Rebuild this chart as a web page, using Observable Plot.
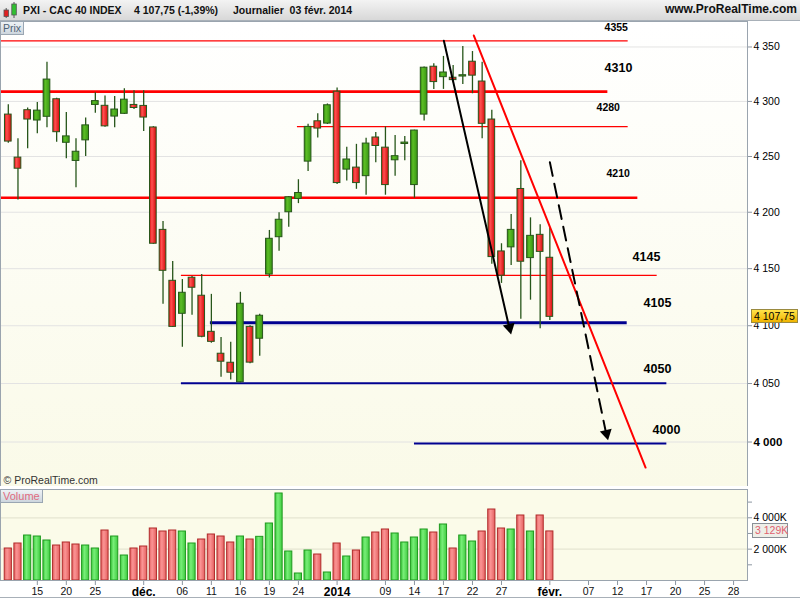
<!DOCTYPE html>
<html lang="fr"><head><meta charset="utf-8">
<script src="https://cdn.jsdelivr.net/npm/d3@7"></script>
<script src="https://cdn.jsdelivr.net/npm/@observablehq/plot@0.6"></script>
<style>
html,body{margin:0;padding:0;background:#fff}
body{width:800px;height:600px;position:relative;overflow:hidden;font-family:"Liberation Sans",Arial,sans-serif}
#hdr{position:absolute;left:0;top:0;width:800px;height:21px;background:linear-gradient(#f3f3f3,#d8d8d8);border-bottom:1px solid #a8b0b8;box-sizing:border-box}
.ht{position:absolute;top:3px;font-weight:bold;color:#111;white-space:nowrap;line-height:14px}
#price{position:absolute;left:0;top:21px}
#vol{position:absolute;left:0;top:489px}
.tag{position:absolute;box-sizing:border-box;border:1px solid #9aa6b2;background:linear-gradient(#eef2f5,#cdd6de);font-size:10.5px;line-height:12px;padding:0 2px;white-space:nowrap}
.box{position:absolute;box-sizing:border-box;font-size:10.5px;line-height:12px;padding:0 2px;white-space:nowrap;z-index:5}
#bottomline{position:absolute;left:0;top:597px;width:800px;height:1px;background:#a8b0b8}
#sep{position:absolute;left:0;top:486px;width:748px;height:3px;background:#fff}
</style>
</head><body>
<svg width="0" height="0" style="position:absolute">
  <defs>
    <linearGradient id="gDn" x1="0" x2="1" y1="0" y2="0">
      <stop offset="0" stop-color="#dc1010"/><stop offset="0.35" stop-color="#ff5050"/><stop offset="1" stop-color="#d40c0c"/>
    </linearGradient>
    <linearGradient id="gUp" x1="0" x2="1" y1="0" y2="0">
      <stop offset="0" stop-color="#2f8a0c"/><stop offset="0.35" stop-color="#5cbd26"/><stop offset="1" stop-color="#379612"/>
    </linearGradient>
    <linearGradient id="vDn" x1="0" x2="1" y1="0" y2="0">
      <stop offset="0" stop-color="#e46464"/><stop offset="0.4" stop-color="#fb9494"/><stop offset="1" stop-color="#e46060"/>
    </linearGradient>
    <linearGradient id="vUp" x1="0" x2="1" y1="0" y2="0">
      <stop offset="0" stop-color="#3cc83c"/><stop offset="0.4" stop-color="#78ee78"/><stop offset="1" stop-color="#40cc40"/>
    </linearGradient>
    <linearGradient id="bgPrice" x1="0" x2="0" y1="0" y2="1">
      <stop offset="0" stop-color="#ffffff"/><stop offset="1" stop-color="#fafae8"/>
    </linearGradient>
  </defs>
</svg>

<div id="hdr">
  <svg width="20" height="20" style="position:absolute;left:1px;top:0">
    <line x1="5.2" y1="8" x2="5.2" y2="18" stroke="#555" stroke-width="1"/>
    <rect x="3" y="10" width="4.5" height="6.5" fill="#e02020" stroke="#555" stroke-width="0.8"/>
    <line x1="13" y1="2" x2="13" y2="18" stroke="#555" stroke-width="1"/>
    <rect x="10.8" y="4" width="4.5" height="11" fill="#30c030" stroke="#555" stroke-width="0.8"/>
  </svg>
  <span class="ht" style="left:23px;font-size:10.5px">PXI - CAC 40 INDEX</span>
  <span class="ht" style="left:134px;font-size:10.5px">4 107,75 (-1,39%)</span>
  <span class="ht" style="left:233px;font-size:10.5px">Journalier&nbsp; 03 févr. 2014</span>
  <span class="ht" style="right:3px;font-size:12px;top:2px">www.ProRealTime.com</span>
</div>

<div id="price"></div>
<div id="sep"></div>
<div id="vol"></div>
<div id="bottomline"></div>

<script>
// ---- data ----
const days = ["12/11","13/11","14/11","15/11","18/11","19/11","20/11","21/11","22/11","25/11","26/11","27/11","28/11","29/11",
  "02/12","03/12","04/12","05/12","06/12","09/12","10/12","11/12","12/12","13/12","16/12","17/12","18/12","19/12","20/12","23/12","24/12","27/12","30/12","31/12",
  "02/01","03/01","06/01","07/01","08/01","09/01","10/01","13/01","14/01","15/01","16/01","17/01","20/01","21/01","22/01","23/01","24/01","27/01","28/01","29/01","30/01","31/01",
  "03/02"];
const opens  = [4288,4249,4292,4282.6,4286,4302,4262.4,4246,4264.6,4296.8,4296,4286.2,4288.7,4296.8,
  4295.9,4276.3,4184.3,4139.3,4110.4,4142,4126.2,4094.7,4075.7,4067.9,4051.1,4099,4088.7,4144.8,4177.8,4200,4211.9,4245.4,4281.9,4279.8,
  4308.9,4238.2,4240,4232.3,4267.2,4258,4246.6,4261.3,4224.3,4288,4331.8,4322.2,4321.7,4322.8,4336.4,4318.2,4283.5,4165.2,4168.8,4220.8,4159.3,4179.9,
  4159.6];
const highs  = [4297,4266,4294,4299,4336,4303,4290,4266,4285,4308,4305,4304.4,4311.6,4309.8,
  4309.8,4277,4191.7,4156.4,4140.4,4143,4144.9,4127.4,4089.8,4085.7,4129.2,4100,4110,4183.8,4199.5,4214,4229.1,4279.2,4288.8,4297.7,
  4312.3,4258.3,4261,4266.4,4271.7,4276.8,4269,4268.2,4273.8,4331.5,4334.6,4341.3,4333,4350.5,4345.8,4336,4291.9,4172,4198,4246.1,4195,4188.8,
  4186.1];
const lows   = [4262,4211,4257,4270.5,4276,4263,4248,4222,4250,4289.3,4276.5,4276,4288,4292.7,
  4272.6,4171.5,4118.8,4098.5,4081.3,4109.2,4089.5,4084.8,4055.4,4053,4050.5,4067,4073.6,4141.8,4165.4,4186.6,4207.7,4236.4,4266.8,4279,
  4224.8,4227.9,4220.5,4215.2,4244.4,4215.2,4232.3,4246.2,4212.5,4282.2,4311,4311,4317,4315.5,4307,4266,4153.8,4137,4152.8,4105.6,4122.3,4097.3,
  4104.6];
const closes = [4263.5,4239,4283.5,4291.6,4320,4272,4268.2,4254.3,4278.2,4300.3,4277.3,4292.6,4301.6,4294,
  4285.3,4172,4148.1,4099,4128.8,4133.2,4090.4,4086,4068.8,4059.3,4119.2,4068,4108.7,4176.4,4193.3,4213.4,4217.2,4276.8,4275.3,4296.5,
  4226.1,4247.3,4226.1,4261.7,4259.5,4224.3,4250.3,4262.6,4273.5,4330.9,4317.7,4326.5,4319.5,4324,4323.6,4279.6,4160.2,4143.8,4184.3,4156.1,4179,4164.8,
  4107.75];
// volume in thousands, and colour (u = up, d = down)
const volumes = [2041,2360,2870,2806,2551,2232,2424,2296,2232,2041,3189,2806,1594,2041,
  2168,3317,3125,3189,3125,2360,2615,2934,2806,2424,2806,2615,2785,3635,5549,1850,446,1913,1658,510,
  2360,1531,1913,2742,3061,3253,2998,2424,2742,3253,3061,3572,2041,2870,2487,3125,4528,3317,3253,4146,3125,4146,
  3129];
const volDir = ["d","d","u","u","u","d","d","d","u","u","d","u","u","d",
  "d","d","d","d","u","u","d","d","d","d","u","d","u","u","u","u","u","u","d","u",
  "d","u","d","u","d","d","u","u","u","u","d","u","d","u","u","d","d","d","u","d","u","d",
  "d"];

// x-axis ticks (trading-day positions) and labels
const tickIdx    = [3,6,9,14,18,21,24,27,30,34,39,42,45,48,51,56,60,63,66,69,72,75];
const tickLabels = ["15","20","25","déc.","06","11","16","19","24","2014","09","14","17","22","27","févr.","07","12","17","20","25","28"];
const boldLabels = ["déc.","2014","févr."];

// axis ticks
const priceTicks = [4000,4050,4100,4150,4200,4250,4300,4350];
const volTicks = [1000,2000,3000,4000,5000];

// horizontal levels drawn on the chart
const levelValue = [4355.7,4309,4277,4213,4144,4102.5,4050.3,3998.7];
const levelFrom  = [-0.8,-0.8,29.9,-0.8,17.9,20.9,17.9,42];
const levelTo    = [64.1,62,64.1,65.1,67.1,64,68.1,68.1];
const levelKind  = ["thinRed","thickRed","thinRed","thickRed","thinRed","navyThick","navy","navy"];
// level labels
const levelText   = ["4355","4310","4280","4210","4145","4105","4050","4000"];
const levelTextX  = [61.66,61.66,60.83,61.86,64.55,65.69,65.69,66.62];
const levelTextY  = [4368,4330.6,4294.5,4234.7,4160.7,4119.8,4062.5,4009.8];
const levelTextSz = [10.5,12.5,10.5,10.5,12.5,12.5,12.5,12.5];

// trend lines (trading-day index, price)
const blackLine  = [{x:45.04,y:4355.7},{x:51.73,y:4101.1}];
const blackHead  = [{x:51.83,y:4098.4}];
const redLine    = [{x:48.14,y:4360.6},{x:65.9,y:3978.4}];
const dashLine   = [{x:56.0,y:4244.9},{x:61.76,y:4009.8}];
const dashHead   = [{x:61.86,y:4007.3}];

// ---- build tables ----
const candles = days.map((d,i)=>({i, day:d, open:opens[i], high:highs[i], low:lows[i], close:closes[i]}));
const vols = days.map((d,i)=>({i, v:volumes[i], up: volDir[i]==="u"}));
const levels = levelValue.map((v,k)=>({v, x1:levelFrom[k], x2:levelTo[k], kind:levelKind[k]}));
const ltext = levelText.map((t,k)=>({t, x:levelTextX[k], y:levelTextY[k], s:levelTextSz[k]}));

const xDomain = [-0.807, 76.44];
const fmtN = d => d3.format(",")(d).replace(/,/g, " ");
const font = "Liberation Sans, Arial, sans-serif";
const wick = "#27561a";

const priceChart = Plot.plot({
  width: 800, height: 465,
  marginLeft: 0, marginRight: 53, marginTop: 0, marginBottom: 0,
  style: {background: "transparent", fontFamily: font, fontSize: "10.5px", overflow: "visible"},
  x: {domain: xDomain, axis: null},
  y: {type: "log", domain: [3962.4, 4373.6]},
  marks: [
    Plot.frame({fill: "url(#bgPrice)", stroke: "none"}),
    Plot.ruleY(priceTicks, {stroke: "#e3e3e3", strokeWidth: 1}),
    Plot.axisY(priceTicks.filter(d => d !== 4000), {anchor: "right", tickSize: 4, tickPadding: 2, tickFormat: fmtN, stroke: "#8c96a0", fill: "#000", fontSize: 10.5, label: null}),
    Plot.axisY([4000], {anchor: "right", tickSize: 4, tickPadding: 2, tickFormat: fmtN, stroke: "#8c96a0", fill: "#000", fontSize: 11.5, fontWeight: "bold", label: null}),
    Plot.ruleY(levels.filter(d => d.kind === "thinRed"), {y: "v", x1: "x1", x2: "x2", stroke: "#ff0000", strokeWidth: 1.2}),
    Plot.ruleY(levels.filter(d => d.kind === "thickRed"), {y: "v", x1: "x1", x2: "x2", stroke: "#ff0000", strokeWidth: 2.6}),
    Plot.ruleY(levels.filter(d => d.kind === "navyThick"), {y: "v", x1: "x1", x2: "x2", stroke: "#000090", strokeWidth: 3}),
    Plot.ruleY(levels.filter(d => d.kind === "navy"), {y: "v", x1: "x1", x2: "x2", stroke: "#000090", strokeWidth: 2}),
    Plot.ruleX(candles, {x: "i", y1: "low", y2: "high", stroke: wick, strokeWidth: 1.3}),
    Plot.rect(candles.filter(d => d.close >= d.open), {x1: d => d.i - 0.345, x2: d => d.i + 0.345, y1: "open", y2: "close", fill: "url(#gUp)", stroke: wick, strokeWidth: 1}),
    Plot.rect(candles.filter(d => d.close < d.open), {x1: d => d.i - 0.345, x2: d => d.i + 0.345, y1: "open", y2: "close", fill: "url(#gDn)", stroke: wick, strokeWidth: 1}),
    Plot.line(blackLine, {x: "x", y: "y", stroke: "#000", strokeWidth: 2}),
    Plot.dot(blackHead, {x: "x", y: "y", symbol: "triangle", r: 4.5, rotate: 167, fill: "#000", stroke: "none"}),
    Plot.line(redLine, {x: "x", y: "y", stroke: "#ff0000", strokeWidth: 2}),
    Plot.line(dashLine, {x: "x", y: "y", stroke: "#000", strokeWidth: 2, strokeDasharray: "14,8"}),
    Plot.dot(dashHead, {x: "x", y: "y", symbol: "triangle", r: 4.5, rotate: 167, fill: "#000", stroke: "none"}),
    Plot.text(ltext, {x: "x", y: "y", text: "t", fontSize: "s", fontWeight: "bold", fill: "#000", textAnchor: "start"}),
    Plot.text(["© ProRealTime.com"], {frameAnchor: "bottom-left", dx: 3, dy: -3, fontSize: 10.5, fill: "#333", textAnchor: "start"}),
    Plot.frame({stroke: "#9aa4ae", strokeWidth: 1})
  ]
});
document.getElementById("price").appendChild(priceChart);

const volChart = Plot.plot({
  width: 800, height: 111,
  marginLeft: 0, marginRight: 53, marginTop: 0, marginBottom: 20,
  style: {background: "transparent", fontFamily: font, fontSize: "10.5px", overflow: "visible"},
  x: {domain: xDomain},
  y: {domain: [0, 5804]},
  marks: [
    Plot.frame({fill: "#fbfbe9", stroke: "none"}),
    Plot.ruleY([2000, 4000], {stroke: "#e6e6d2", strokeWidth: 1.2}),
    Plot.rectY(vols.filter(d => d.up), {x1: d => d.i - 0.37, x2: d => d.i + 0.37, y: "v", fill: "url(#vUp)", stroke: "#1f9a1f", strokeWidth: 1}),
    Plot.rectY(vols.filter(d => !d.up), {x1: d => d.i - 0.37, x2: d => d.i + 0.37, y: "v", fill: "url(#vDn)", stroke: "#b02a2a", strokeWidth: 1}),
    Plot.axisY(volTicks, {anchor: "right", tickSize: 4, tickPadding: 2, tickFormat: d => d % 2000 === 0 ? fmtN(d) + "K" : "", stroke: "#8c96a0", fill: "#000", fontSize: 10.5, label: null}),
    Plot.axisX(tickIdx.filter((t,k) => !boldLabels.includes(tickLabels[k])), {anchor: "bottom", tickSize: 5, tickPadding: 2, tickFormat: t => tickLabels[tickIdx.indexOf(t)], stroke: "#8c96a0", fill: "#111", fontSize: 10.5, label: null}),
    Plot.axisX(tickIdx.filter((t,k) => boldLabels.includes(tickLabels[k])), {anchor: "bottom", tickSize: 5, tickPadding: 1.5, tickFormat: t => tickLabels[tickIdx.indexOf(t)], stroke: "#8c96a0", fill: "#000", fontSize: 12, fontWeight: "bold", label: null}),
    Plot.frame({stroke: "#9aa4ae", strokeWidth: 1})
  ]
});
document.getElementById("vol").appendChild(volChart);

// last-value tags positioned through the charts' own scales
const lastClose = closes[closes.length - 1];
const lastVol = volumes[volumes.length - 1];
const py = priceChart.scale("y").apply(lastClose);
const vy = volChart.scale("y").apply(lastVol);

const pTag = document.createElement("div");
pTag.className = "box";
pTag.style.cssText += `left:751px;top:${21 + py - 7}px;height:14px;width:47px;background:linear-gradient(#ffe34a,#f0b400);border:1px solid #9a8a40;color:#000;line-height:12px`;
pTag.textContent = "4 107,75";
document.body.appendChild(pTag);

const vTag = document.createElement("div");
vTag.className = "box";
vTag.style.cssText += `left:752px;top:${489 + vy - 7.5}px;height:15px;width:36px;background:#eeeee8;border:1px solid #8a8f96;color:#e0606e;line-height:13px`;
vTag.textContent = "3 129K";
document.body.appendChild(vTag);

// panel captions
const prix = document.createElement("div");
prix.className = "tag"; prix.style.cssText += "left:0;top:21px;height:14px;color:#4f6275";
prix.textContent = "Prix";
document.body.appendChild(prix);
const volTag = document.createElement("div");
volTag.className = "tag"; volTag.style.cssText += "left:0;top:489px;height:14px;color:#e06a80;font-size:11px";
volTag.textContent = "Volume";
document.body.appendChild(volTag);
</script>
</body></html>
